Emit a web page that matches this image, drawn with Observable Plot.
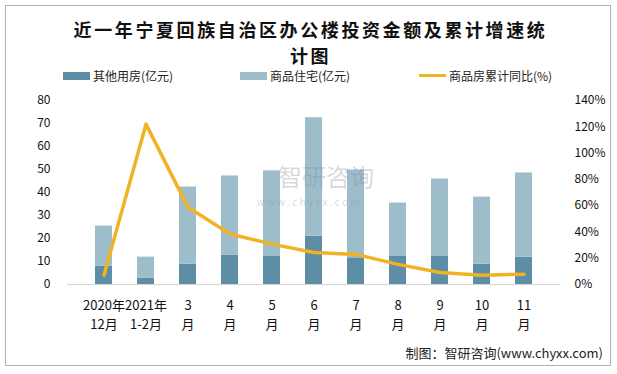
<!DOCTYPE html>
<html><head><meta charset="utf-8">
<script src="https://cdn.jsdelivr.net/npm/d3@7"></script>
<script src="https://cdn.jsdelivr.net/npm/@observablehq/plot@0.6"></script>
<style>
body{margin:0;background:#fff;font-family:"Noto Sans CJK SC","Noto Sans",sans-serif;}
#wrap{position:relative;width:617px;height:374px;overflow:hidden;}
#frame{position:absolute;left:5px;top:5px;width:606px;height:361px;border:1px solid #b0b0b0;box-sizing:border-box;}
.title{position:absolute;left:2px;width:617px;text-align:center;font-size:18px;font-weight:bold;line-height:26px;color:#111;letter-spacing:2.6px;}
.leg{position:absolute;top:67px;font-size:12px;color:#222;display:flex;align-items:center;}
.sw{display:inline-block;width:27px;margin-right:3px;}
#cap{position:absolute;right:14px;top:343px;font-size:13px;color:#222;}
svg{position:absolute;left:0;top:0;}
</style></head>
<body><div id="wrap">
<div id="frame"></div>
<div class="title" style="top:16px">近一年宁夏回族自治区办公楼投资金额及累计增速统</div>
<div class="title" style="top:42px">计图</div>
<div class="leg" style="left:63px"><span class="sw" style="height:8px;background:#5d8ea6"></span>其他用房(亿元)</div>
<div class="leg" style="left:240px"><span class="sw" style="height:8px;background:#9dbdcb"></span>商品住宅(亿元)</div>
<div class="leg" style="left:419px"><span class="sw" style="height:3px;background:#f0b323"></span>商品房累计同比(%)</div>
<div id="cap">制图：智研咨询(www.chyxx.com)</div>
<div id="chart"></div>
</div>
<script>
const months = ["2020年\n12月","2021年\n1-2月","3\n月","4\n月","5\n月","6\n月","7\n月","8\n月","9\n月","10\n月","11\n月"];
const otherUse = [8.0, 2.7, 8.8, 12.8, 12.4, 21.0, 11.6, 12.4, 12.4, 8.8, 11.9];
const residential = [17.4, 9.2, 33.6, 34.4, 37.0, 51.5, 38.2, 23.0, 33.5, 29.2, 36.6];
const cumYoY = [7.1, 122, 58.7, 38.4, 30.7, 24.4, 22.9, 15.3, 9.2, 7.1, 7.8];
const leftTicks = [0,10,20,30,40,50,60,70,80];
const rightTicks = [0,20,40,60,80,100,120,140];

const k = 80/140;
const bars = [];
months.forEach((m,i)=>{
  bars.push({m, s:"其他用房", v:otherUse[i]});
  bars.push({m, s:"商品住宅", v:residential[i]});
});
const line = months.map((m,i)=>({m, v:cumYoY[i]*k}));

const chart = Plot.plot({
  width:617, height:350,
  marginLeft:67, marginRight:57, marginTop:100, marginBottom:66,
  style:{fontFamily:'"Noto Sans CJK SC","Noto Sans",sans-serif', fontSize:"12px", color:"#111", background:"transparent"},
  x:{type:"band", domain:months, padding:0.6, label:null},
  y:{domain:[0,80], label:null},
  color:{domain:["其他用房","商品住宅"], range:["#5d8ea6","#9dbdcb"]},
  marks:[
    Plot.barY(bars,{x:"m", y:"v", fill:"s", order:["其他用房","商品住宅"]}),
    Plot.text(["智研咨询"],{frameAnchor:"middle", dx:12, dy:-14, fontSize:24, fill:"#8a8f94", fillOpacity:0.35}),
    Plot.text(["w w w . c h y x x . c o m"],{frameAnchor:"middle", dx:-6, dy:10, fontSize:10, fill:"#8a8f94", fillOpacity:0.35}),
    Plot.ruleY([0],{stroke:"#d4d4d4", strokeWidth:1.2}),
    Plot.line(line,{x:"m", y:"v", stroke:"#f0b323", strokeWidth:3.5, curve:"linear"}),
    Plot.axisY(leftTicks,{anchor:"left", tickSize:0, tickPadding:17, label:null, fontSize:12}),
    Plot.axisY(rightTicks.map(d=>d*k),{anchor:"right", tickSize:0, tickPadding:14, label:null, fontSize:12, tickFormat:d=>Math.round(d/k)+"%"}),
    Plot.axisX({tickSize:0, tickPadding:12, label:null, fontSize:13, lineHeight:1.45})
  ]
});
document.getElementById("chart").appendChild(chart);
</script>
</body></html>
